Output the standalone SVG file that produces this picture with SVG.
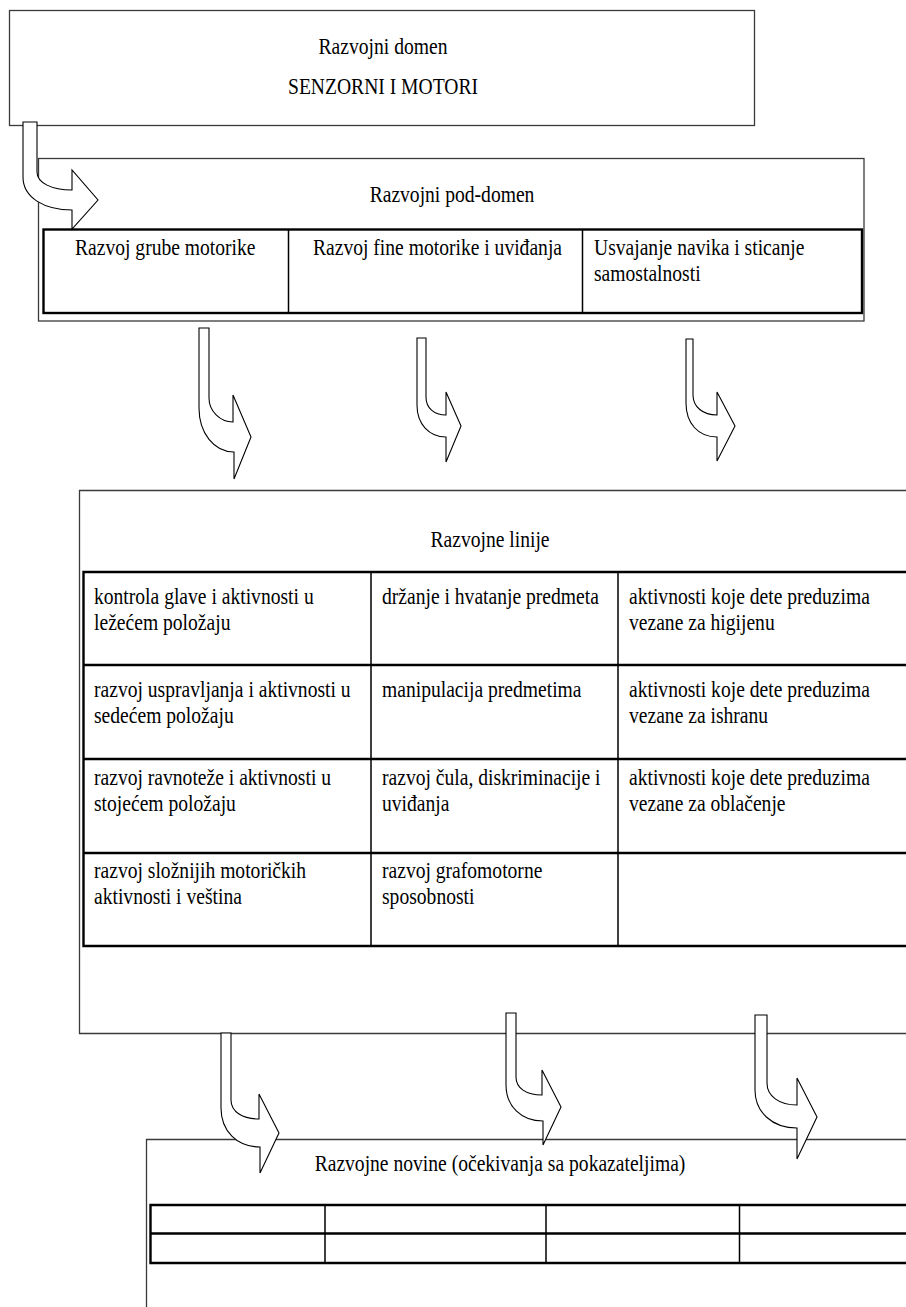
<svg xmlns="http://www.w3.org/2000/svg" width="906" height="1307" viewBox="0 0 906 1307">
<style>
text{font-family:"Liberation Serif","Times New Roman",serif;font-size:19.6px;fill:#000}
.box{fill:none;stroke:#3a3a3a;stroke-width:1.3}
.tbl{fill:none;stroke:#000;stroke-width:2.4}
.div{fill:none;stroke:#000;stroke-width:1.5}
.arr{fill:#fff;stroke:#000;stroke-width:1.1;stroke-linejoin:miter}
.c{text-anchor:middle}
</style>
<rect width="906" height="1307" fill="#fff"/>
<g id="domen">
<rect class="box" x="9.5" y="10.5" width="745" height="115"/>
<text class="c" transform="matrix(1 0 0 1.2 383 54)">Razvojni domen</text>
<text class="c" transform="matrix(1 0 0 1.2 383 94)">SENZORNI I MOTORI</text>
</g>
<g id="pod-domen">
<rect class="box" x="38.5" y="158.5" width="825.5" height="162.5"/>
<text class="c" transform="matrix(1 0 0 1.2 452 202)">Razvojni pod-domen</text>
<rect class="tbl" x="43.5" y="229.5" width="818.5" height="83.5"/>
<path class="div" d="M288.5 229.5V313M582.5 229.5V313"/>
<text transform="matrix(1 0 0 1.2 75 255)">Razvoj grube motorike</text>
<text transform="matrix(1 0 0 1.2 313 255)">Razvoj fine motorike i uviđanja</text>
<text transform="matrix(1 0 0 1.2 594 255)">Usvajanje navika i sticanje</text>
<text transform="matrix(1 0 0 1.2 594 281)">samostalnosti</text>
</g>
<g id="linije">
<path class="box" d="M910 490.5H79.5V1033.5H910"/>
<text class="c" transform="matrix(1 0 0 1.2 490 547)">Razvojne linije</text>
<path class="tbl" d="M910 572H83.5V946H910M83.5 665H910M83.5 759H910M83.5 853H910"/>
<path class="div" d="M371 572V946M618 572V946"/>
<text transform="matrix(1 0 0 1.2 94 604)">kontrola glave i aktivnosti u</text>
<text transform="matrix(1 0 0 1.2 94 630)">ležećem položaju</text>
<text transform="matrix(1 0 0 1.2 94 697)">razvoj uspravljanja i aktivnosti u</text>
<text transform="matrix(1 0 0 1.2 94 723)">sedećem položaju</text>
<text transform="matrix(1 0 0 1.2 94 785)">razvoj ravnoteže i aktivnosti u</text>
<text transform="matrix(1 0 0 1.2 94 811)">stojećem položaju</text>
<text transform="matrix(1 0 0 1.2 94 878)">razvoj složnijih motoričkih</text>
<text transform="matrix(1 0 0 1.2 94 904)">aktivnosti i veština</text>
<text transform="matrix(1 0 0 1.2 382 604)">držanje i hvatanje predmeta</text>
<text transform="matrix(1 0 0 1.2 382 697)">manipulacija predmetima</text>
<text transform="matrix(1 0 0 1.2 382 785)">razvoj čula, diskriminacije i</text>
<text transform="matrix(1 0 0 1.2 382 811)">uviđanja</text>
<text transform="matrix(1 0 0 1.2 382 878)">razvoj grafomotorne</text>
<text transform="matrix(1 0 0 1.2 382 904)">sposobnosti</text>
<text transform="matrix(1 0 0 1.2 629 604)">aktivnosti koje dete preduzima</text>
<text transform="matrix(1 0 0 1.2 629 630)">vezane za higijenu</text>
<text transform="matrix(1 0 0 1.2 629 697)">aktivnosti koje dete preduzima</text>
<text transform="matrix(1 0 0 1.2 629 723)">vezane za ishranu</text>
<text transform="matrix(1 0 0 1.2 629 785)">aktivnosti koje dete preduzima</text>
<text transform="matrix(1 0 0 1.2 629 811)">vezane za oblačenje</text>
</g>
<g id="novine">
<path class="box" d="M910 1139.5H146.5V1310"/>
<text class="c" transform="matrix(1 0 0 1.2 500 1171)">Razvojne novine (očekivanja sa pokazateljima)</text>
<path class="tbl" d="M910 1205H150.5V1263H910M150.5 1233.5H910"/>
<path class="div" d="M325 1205V1263M546 1205V1263M739.5 1205V1263"/>
</g>
<g id="connectors">
<path class="arr" d="M23 122H37V172C37 183 52 190 72 190V170L98 200L72 229V210C45 210 23 198 23 177Z"/>
<path class="arr" d="M199 328H209V398C209 411 220 422 233 422V395L251 437L234 479V452C214 452 199 433 199 408Z"/>
<path class="arr" d="M417 338H426V397C426 408 434 415 446 415V392L461 426L446 462V437C429 437 417 424 417 405Z"/>
<path class="arr" d="M686 339H693V395C693 407 703 415 717 415V392L735 426L717 461V437C698 437 686 423 686 403Z"/>
<path class="arr" d="M221 1033H231V1100C231 1112 243 1119 259 1119V1094L279 1133L260 1173V1147C237 1147 221 1131 221 1108Z"/>
<path class="arr" d="M506 1013H516V1077C516 1088 526 1095 542 1095V1070L561 1107L543 1145V1121C521 1121 506 1106 506 1085Z"/>
<path class="arr" d="M755 1015H767V1083C767 1096 779 1105 797 1105V1078L817 1117L797 1159V1128C772 1128 755 1112 755 1090Z"/>
</g>
</svg>
